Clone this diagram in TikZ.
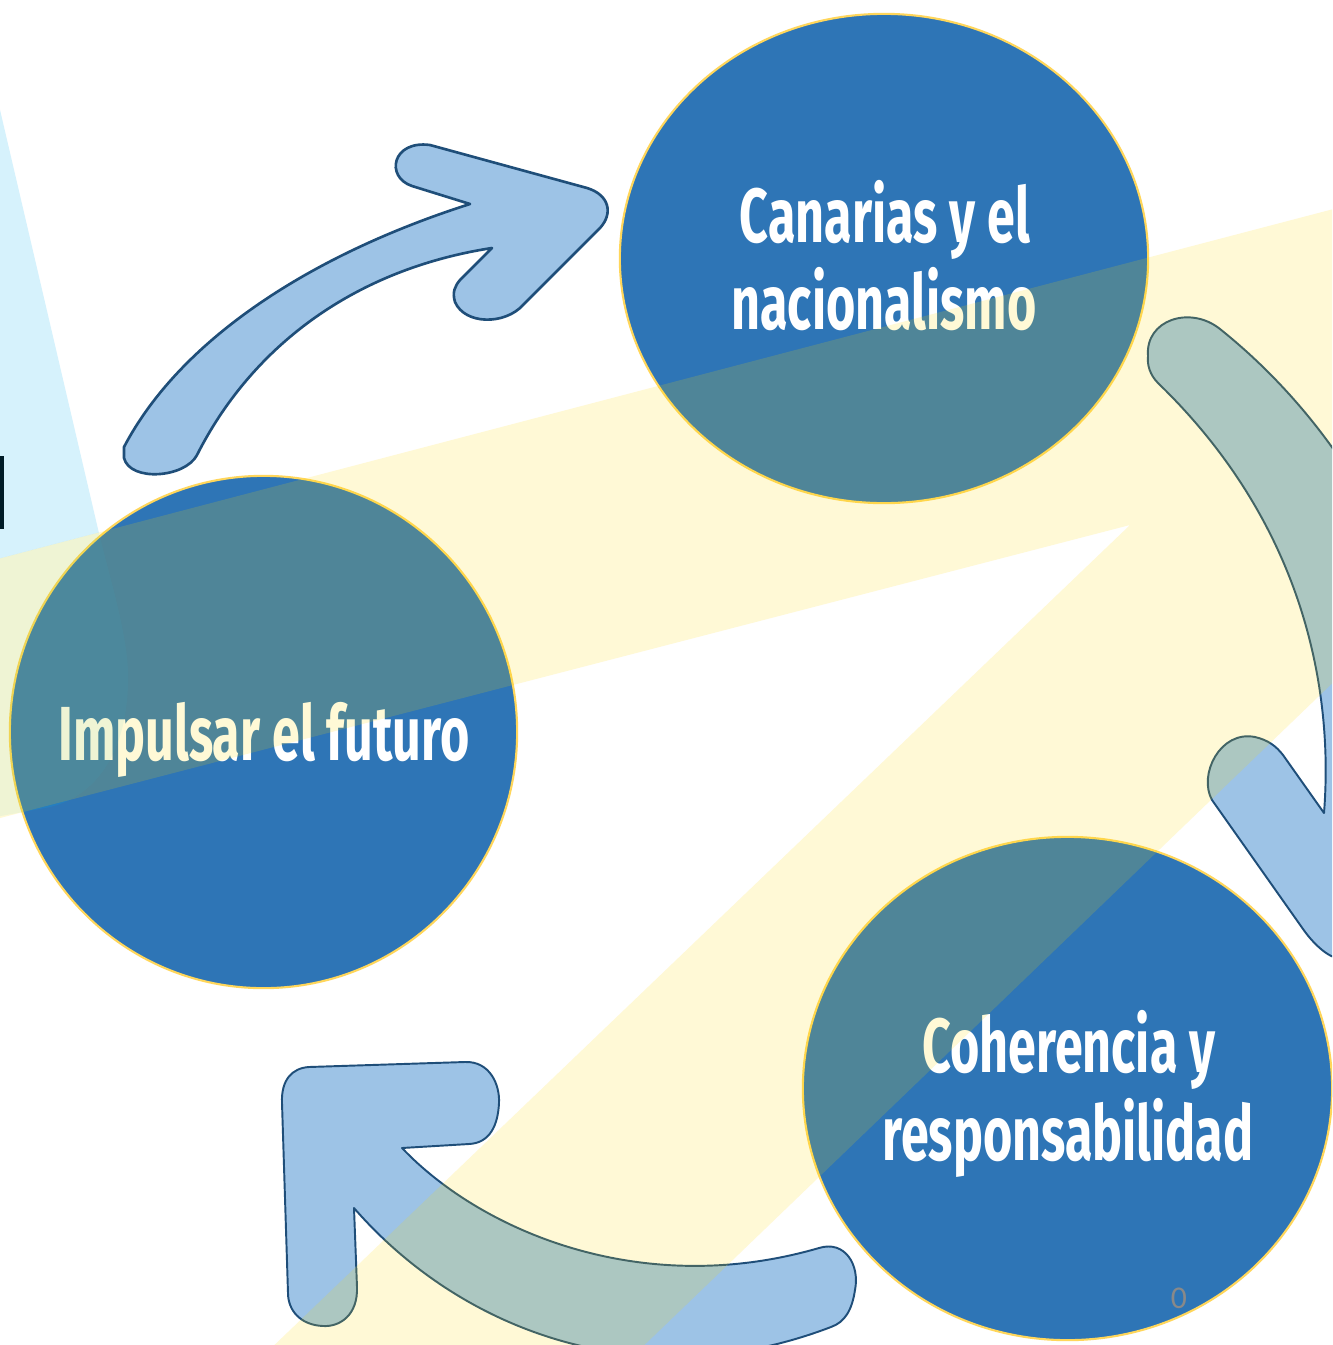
\documentclass[tikz,border=0pt]{standalone}
\usepackage{fontspec}
\setmainfont{Fira Sans}
\newfontfamily\condfont[FakeStretch=0.655]{Fira Sans}
\newfontfamily\numfont{Carlito}
\usetikzlibrary{shapes.geometric}
\definecolor{circblue}{RGB}{46,117,182}
\definecolor{circline}{RGB}{255,214,90}
\definecolor{arrfill}{RGB}{157,195,230}
\definecolor{arrline}{RGB}{31,78,121}
\definecolor{sunyellow}{RGB}{255,220,0}
\definecolor{raycyan}{RGB}{0,176,240}
\definecolor{pagegray}{RGB}{137,137,137}
\tikzset{
  circ/.style={ellipse, draw=circline, line width=0.6pt, fill=circblue, inner sep=0pt, outer sep=0pt},
  txt/.style={text=white, font=\condfont\bfseries\fontsize{21.8}{26}\selectfont, inner sep=0pt, anchor=base},
  arrow shape/.style={fill=arrfill, draw=arrline, line join=round},
  overlay yellow/.style={fill=sunyellow, fill opacity=0.16},
  overlay cyan/.style={fill=raycyan, fill opacity=0.16},
  overlay cyan light/.style={fill=raycyan, fill opacity=0.07}
}
\def\yellowpath{(-10,561) -- (1345,206) -- (1345,671) -- (634,1355)
  -- (264,1355) -- (1130,525) -- (-10,820.6) -- cycle}
\def\cyanpath{(-10,67) -- (98,529) .. controls (110,580) and (130,640) .. (128,684)
  .. controls (126,760) and (90,800) .. (45,808) -- (-10,818) -- cycle}
\begin{document}
\begin{tikzpicture}[x=0.01cm,y=-0.01cm]
\useasboundingbox (0,0) rectangle (1332,1345);
\clip (0,0) rectangle (1332,1345);
\fill[white] (0,0) rectangle (1332,1345);
% fragment of a letter at the left edge
\fill[black] (0,456) rectangle (4,529);

% arrow 1 (top left)
\draw[arrow shape, line width=0.75pt]
  (124,447) .. controls (180,340) and (310,255) .. (470,204)
  -- (412,186) .. controls (385,177) and (392,140) .. (430,145)
  -- (587,188) .. controls (610,195) and (613,214) .. (600,228)
  -- (523,305) .. controls (505,325) and (465,325) .. (455,302)
  .. controls (452,292) and (455,286) .. (460,280)
  -- (492,248) .. controls (350,270) and (250,350) .. (197,455)
  .. controls (185,478) and (130,482) .. (124,458) -- cycle;

% arrow 2 (right)
\draw[arrow shape, line width=0.55pt]
  (1148,356) .. controls (1145,320) and (1190,305) .. (1220,329)
  .. controls (1290,385) and (1400,500) .. (1440,700)
  -- (1490,700) -- (1346,955)
  .. controls (1336,966) and (1314,945) .. (1303,929)
  -- (1212,800) .. controls (1198,775) and (1220,730) .. (1255,737)
  .. controls (1268,740) and (1276,746) .. (1283,755)
  -- (1324,813) .. controls (1333,700) and (1310,530) .. (1158,383)
  .. controls (1150,375) and (1147,365) .. (1148,356) -- cycle;

% arrow 3 (bottom)
\draw[arrow shape, line width=0.55pt]
  (282,1103) .. controls (281,1080) and (292,1068) .. (309,1067)
  -- (465,1062) .. controls (490,1061) and (500,1085) .. (499,1103)
  .. controls (498,1125) and (490,1143) .. (469,1144)
  -- (402,1148) .. controls (480,1230) and (640,1300) .. (819,1248)
  .. controls (845,1240) and (860,1265) .. (855,1290)
  .. controls (852,1310) and (845,1322) .. (831,1327)
  .. controls (640,1400) and (460,1330) .. (354,1208)
  -- (357,1287) .. controls (358,1315) and (340,1327) .. (323,1326)
  .. controls (300,1325) and (288,1310) .. (288,1293) -- cycle;

% circles
\node[circ, minimum width=5.28cm, minimum height=4.89cm] (c1) at (884,258.5) {};
\node[circ, minimum width=5.07cm, minimum height=5.12cm] (c2) at (263.5,732) {};
\node[circ, minimum width=5.29cm, minimum height=5.03cm] (c3) at (1067.5,1088.5) {};

% texts
\node[txt] (t1a) at (885,242) {Canarias y el};
\node[txt] (t1b) at (884,329) {nacionalismo};
\node[txt] (t2) at (264,760) {Impulsar el futuro};
\node[txt] (t3a) at (1069,1072) {Coherencia y};
\node[txt] (t3b) at (1068,1160) {responsabilidad};
\node[text=pagegray, font=\numfont\fontsize{9}{10}\selectfont, inner sep=0pt, anchor=base] (pg) at (1179,1308) {0};

% translucent background rays drawn on top
\begin{scope}[even odd rule]
  \clip (-20,-20) rectangle (1360,1360) \yellowpath;
  \fill[overlay cyan] \cyanpath;
\end{scope}
\begin{scope}
  \clip \yellowpath;
  \fill[overlay cyan light] \cyanpath;
\end{scope}
\fill[overlay yellow] \yellowpath;
\end{tikzpicture}
\end{document}
